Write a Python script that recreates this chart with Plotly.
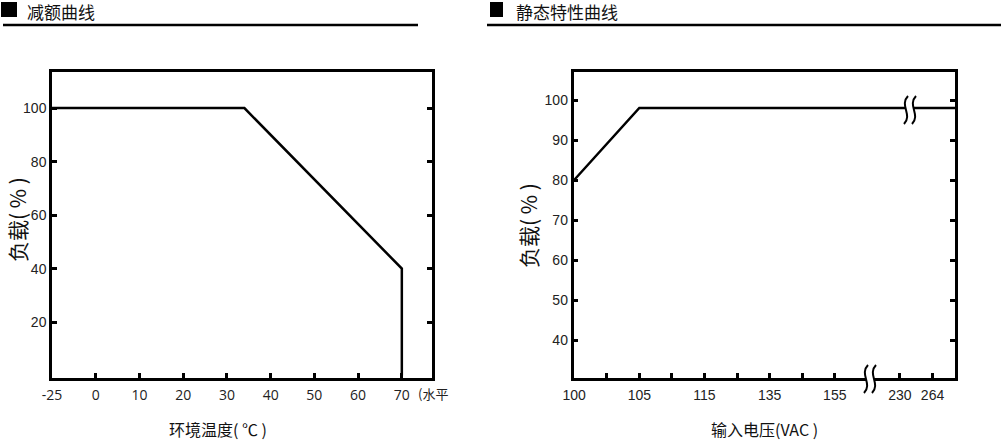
import numpy as np
import plotly.graph_objects as go

# ---------------- data ----------------
# Derating curve (left)
temp_c = [-25, 34, 70, 70]
derate_load = [100, 100, 40, 0]
temp_ticks = [-25, 0, 10, 20, 30, 40, 50, 60, 70]
temp_tick_pos = [-10, 0, 10, 20, 30, 40, 50, 60, 70]   # broken axis: -25 compressed
derate_yticks = [20, 40, 60, 80, 100]

# Static characteristic (right)
volt_vac = [100, 105, 264]
static_load = [80, 98, 98]
volt_ticks = [100, 105, 115, 135, 155, 230, 264]
volt_tick_pos = [0, 2, 4, 6, 8, 10, 11]                  # category-like positions
volt_minor_pos = [1, 3, 5, 7]
static_yticks = [40, 50, 60, 70, 80, 90, 100]

W, H = 1001, 440

def px(x):
    return x / W

def py(y):
    return 1 - y / H

LX0, LX1 = 52, 432
RX0, RX1 = 573.5, 955
TOP, BOT = 72, 378

LRANGE = [-10, 76.9]
RRANGE = [-0.02, 11.69]

fig = go.Figure()

xl = np.interp(temp_c, [-25, 0, 70], [-10, 0, 70])
fig.add_trace(go.Scatter(x=xl, y=derate_load, mode="lines",
                         line=dict(color="black", width=2.5),
                         xaxis="x", yaxis="y", showlegend=False, hoverinfo="skip"))

xr = list(np.interp(volt_vac, volt_ticks, volt_tick_pos)) + [RRANGE[1] + 1]
yr = static_load + [static_load[-1]]
fig.add_trace(go.Scatter(x=xr, y=yr, mode="lines",
                         line=dict(color="black", width=2.5),
                         xaxis="x2", yaxis="y2", showlegend=False, hoverinfo="skip"))

tickfont_y = dict(family="Liberation Sans, Arial, sans-serif", size=14, color="#222")
common_axis = dict(showgrid=False, zeroline=False, showline=True, linecolor="black",
                   linewidth=2.5, ticks="inside", ticklen=5, tickwidth=2.5,
                   tickcolor="black", fixedrange=True, automargin=False)

fig.update_layout(
    width=W, height=H,
    margin=dict(l=0, r=0, t=0, b=0),
    paper_bgcolor="white", plot_bgcolor="white",
    xaxis=dict(domain=[px(LX0), px(LX1)], anchor="y", range=LRANGE,
               tickmode="array", tickvals=temp_tick_pos,
               ticktext=[str(t) for t in temp_ticks],
               tickfont=dict(family="Open Sans, sans-serif", size=14, color="#222"),
               mirror=True, ticklabelstandoff=2, **common_axis),
    yaxis=dict(domain=[py(BOT), py(TOP)], anchor="x", range=[-0.9, 113.5],
               tickmode="array", tickvals=derate_yticks,
               tickfont=tickfont_y, mirror="ticks", ticklabelstandoff=0, **common_axis),
    xaxis2=dict(domain=[px(RX0), px(RX1)], anchor="y2", range=RRANGE,
                tickmode="array", tickvals=volt_tick_pos + volt_minor_pos,
                ticktext=[str(v) for v in volt_ticks] + [""] * len(volt_minor_pos),
                tickfont=dict(family="Liberation Sans, Arial, sans-serif", size=14, color="#222"),
                mirror=True, ticklabelstandoff=2, **common_axis),
    yaxis2=dict(domain=[py(BOT), py(TOP)], anchor="x2", range=[30.5, 107],
                tickmode="array", tickvals=static_yticks,
                tickfont=tickfont_y, mirror="ticks", ticklabelstandoff=0, **common_axis),
)

cjk = "Noto Sans CJK SC, sans-serif"
shapes = []
annotations = []

# headers
for (sx0, sx1, lx0, lx1, tx, text) in [(1, 17, 3, 418, 25, "减额曲线"),
                                        (490, 503, 487, 1001, 514, "静态特性曲线")]:
    shapes.append(dict(type="rect", xref="paper", yref="paper",
                       x0=px(sx0), x1=px(sx1), y0=py(17), y1=py(2),
                       fillcolor="black", line=dict(width=0)))
    shapes.append(dict(type="line", xref="paper", yref="paper",
                       x0=px(lx0), x1=px(lx1), y0=py(25), y1=py(25),
                       line=dict(color="black", width=2.5)))
    annotations.append(dict(text=text, xref="paper", yref="paper", x=px(tx), y=py(11),
                            xanchor="left", yanchor="middle", showarrow=False,
                            font=dict(family=cjk, size=17, color="#111")))

# axis titles
annotations += [
    dict(text="负载( % )", xref="paper", yref="paper", x=px(17), y=py(220), textangle=-90,
         xanchor="center", yanchor="middle", showarrow=False,
         font=dict(family=cjk, size=21, color="#111")),
    dict(text="负载( % )", xref="paper", yref="paper", x=px(528), y=py(226), textangle=-90,
         xanchor="center", yanchor="middle", showarrow=False,
         font=dict(family=cjk, size=21, color="#111")),
    dict(text="环境温度( ℃ )", xref="paper", yref="paper", x=px(218), y=py(429),
         xanchor="center", yanchor="middle", showarrow=False,
         font=dict(family=cjk, size=16, color="#111")),
    dict(text="输入电压(VAC )", xref="paper", yref="paper", x=px(764), y=py(429),
         xanchor="center", yanchor="middle", showarrow=False,
         font=dict(family=cjk, size=16, color="#111")),
    dict(text="(水平", xref="paper", yref="paper", x=px(416), y=py(393),
         xanchor="left", yanchor="middle", showarrow=False,
         font=dict(family=cjk, size=13, color="#222")),
]

# break squiggles
def squiggle(cx, cy, half=14, gap=8):
    out = []
    xa, xb = cx - gap / 2, cx + gap / 2
    def spath(x):
        return (f"M {px(x+2)},{py(cy-half)} C {px(x-7)},{py(cy-half/3)} "
                f"{px(x+7)},{py(cy+half/3)} {px(x-2)},{py(cy+half)}")
    fill = (f"M {px(xa+2)},{py(cy-half)} C {px(xa-7)},{py(cy-half/3)} "
            f"{px(xa+7)},{py(cy+half/3)} {px(xa-2)},{py(cy+half)} "
            f"L {px(xb-2)},{py(cy+half)} C {px(xb+7)},{py(cy+half/3)} "
            f"{px(xb-7)},{py(cy-half/3)} {px(xb+2)},{py(cy-half)} Z")
    out.append(dict(type="path", xref="paper", yref="paper", path=fill,
                    fillcolor="white", line=dict(width=0), layer="above"))
    for x in (xa, xb):
        out.append(dict(type="path", xref="paper", yref="paper", path=spath(x),
                        line=dict(color="black", width=2), layer="above"))
    return out

shapes += squiggle(870, 379)
shapes += squiggle(910, 110)

fig.update_layout(shapes=shapes, annotations=annotations)
fig.write_html("out.html", config={"displayModeBar": False},
               post_script="document.body.style.margin='0';document.body.style.overflow='hidden';")
